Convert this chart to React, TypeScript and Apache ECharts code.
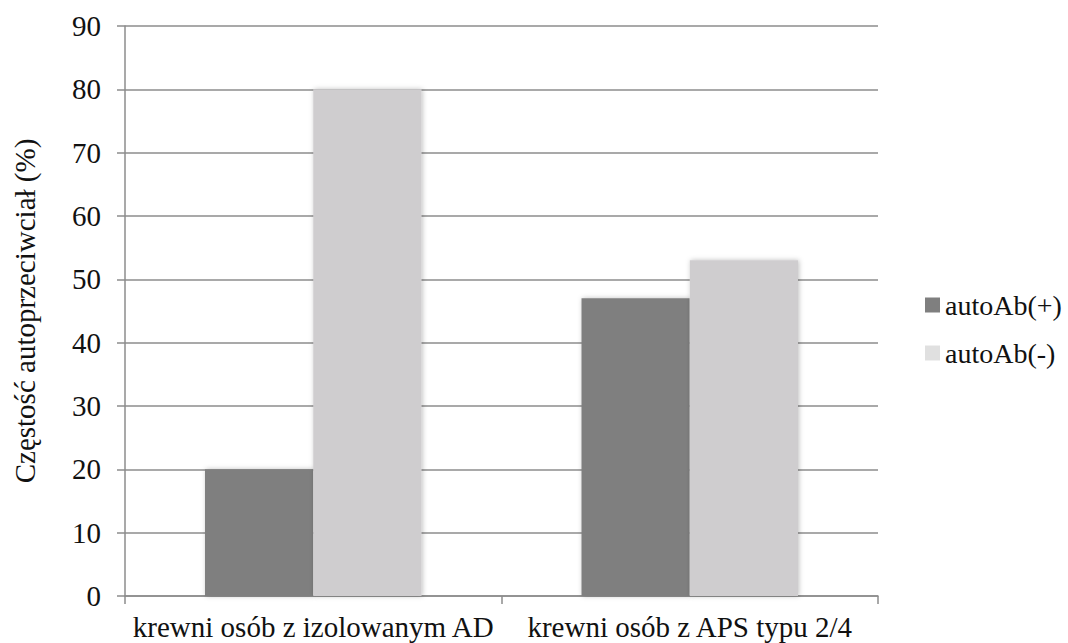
import React, { useEffect, useRef } from "react";
import * as echarts from "echarts";

const categories = ["krewni osób z izolowanym AD", "krewni osób z APS typu 2/4"];
const seriesNames = ["autoAb(+)", "autoAb(-)"];
const positiveValues = [20, 47];
const negativeValues = [80, 53];
const yTicks = { min: 0, max: 90, interval: 10 };

const FONT = "'Liberation Serif', serif";
const FONT_SIZE = 29;
const TEXT = "#111";
const DARK = "#7f7f7f";
const LIGHT = "#cfcdcf";
const LEGEND_LIGHT = "#e0e0e0";
const GRID_LINE = "#8c8c8c";

export default function App() {
  const ref = useRef<HTMLDivElement>(null);

  useEffect(() => {
    if (!ref.current) return;
    const chart = echarts.init(ref.current, undefined, { renderer: "svg" });
    const barShadow = {
      shadowBlur: 5,
      shadowColor: "rgba(0,0,0,0.25)",
      shadowOffsetX: 1,
      shadowOffsetY: 0,
    };
    const axisText = { fontFamily: FONT, fontSize: FONT_SIZE, color: TEXT };
    chart.setOption({
      animation: false,
      backgroundColor: "#ffffff",
      textStyle: { fontFamily: FONT, color: TEXT },
      grid: { left: 125, right: 190, top: 26, bottom: 47, containLabel: false },
      legend: {
        orient: "vertical",
        left: 920,
        top: 286,
        itemWidth: 15,
        itemHeight: 15,
        itemGap: 20,
        icon: "rect",
        textStyle: { ...axisText, fontSize: 28, padding: [0, 0, 0, 0] },
        data: [
          { name: seriesNames[0], itemStyle: { color: DARK } },
          { name: seriesNames[1], itemStyle: { color: LEGEND_LIGHT } },
        ],
      },
      xAxis: {
        type: "category",
        data: categories,
        axisLine: { show: true, lineStyle: { color: GRID_LINE, width: 1.5 } },
        axisTick: { show: true, length: 8, lineStyle: { color: GRID_LINE, width: 1.5 } },
        axisLabel: { ...axisText, margin: 16, interval: 0, hideOverlap: false },
        splitLine: { show: false },
      },
      yAxis: {
        type: "value",
        min: yTicks.min,
        max: yTicks.max,
        interval: yTicks.interval,
        name: "Częstość autoprzeciwciał (%)",
        nameLocation: "middle",
        nameGap: 86,
        nameTextStyle: axisText,
        axisLine: { show: true, lineStyle: { color: GRID_LINE, width: 1.5 } },
        axisTick: { show: true, length: 8, lineStyle: { color: GRID_LINE, width: 1.5 } },
        axisLabel: { ...axisText, margin: 24 },
        splitLine: { show: true, lineStyle: { color: GRID_LINE, width: 1.5 } },
      },
      series: [
        {
          name: seriesNames[0],
          type: "bar",
          data: positiveValues,
          barGap: "0%",
          barCategoryGap: "42.5%",
          itemStyle: { color: DARK, ...barShadow },
        },
        {
          name: seriesNames[1],
          type: "bar",
          data: negativeValues,
          barGap: "0%",
          barCategoryGap: "42.5%",
          itemStyle: { color: LIGHT, ...barShadow },
        },
      ],
    });
    return () => chart.dispose();
  }, []);

  return (
    <div
      ref={ref}
      style={{ position: "absolute", left: 0, top: 0, width: 1068, height: 643 }}
    />
  );
}
